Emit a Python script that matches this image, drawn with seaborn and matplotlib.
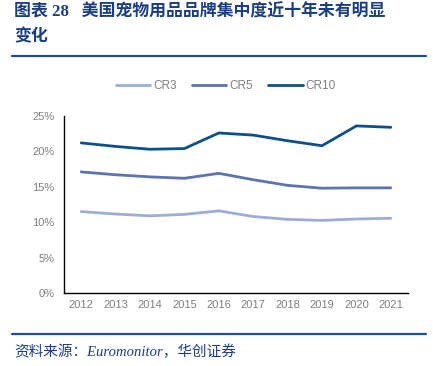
import pandas as pd
import matplotlib
matplotlib.use("Agg")
import matplotlib.pyplot as plt
import seaborn as sns
from matplotlib.lines import Line2D

# data (%)
years = [2012, 2013, 2014, 2015, 2016, 2017, 2018, 2019, 2020, 2021]
cr3 = [11.5, 11.15, 10.9, 11.1, 11.6, 10.8, 10.4, 10.25, 10.45, 10.55]
cr5 = [17.1, 16.7, 16.4, 16.2, 16.9, 16.0, 15.2, 14.8, 14.85, 14.85]
cr10 = [21.2, 20.7, 20.3, 20.4, 22.6, 22.3, 21.5, 20.8, 23.6, 23.4]
series_names = ["CR3", "CR5", "CR10"]
y_ticks = [0, 5, 10, 15, 20, 25]

title_1 = "图表 28   美国宠物用品品牌集中度近十年未有明显"
title_2 = "变化"
source = "资料来源：Euromonitor，华创证券"

# long table for seaborn
df = pd.DataFrame({"year": [str(y) for y in years], "CR3": cr3, "CR5": cr5, "CR10": cr10})
df_long = df.melt(id_vars="year", var_name="series", value_name="value")

sns.set_style("white")
plt.rcParams["font.family"] = ["Liberation Sans", "Noto Sans CJK SC", "DejaVu Sans"]

palette = {"CR3": "#9dadd6", "CR5": "#5c74b0", "CR10": "#0d4f8d"}
gray = "#7f7f7f"
navy = "#1c3f7f"

fig = plt.figure(figsize=(4.33, 3.66), dpi=100)
ax = fig.add_axes([0.1478, 0.1995, 0.7945, 0.4836])

sns.lineplot(data=df_long, x="year", y="value", hue="series", hue_order=series_names,
             palette=palette, linewidth=2, sort=False, legend=False, ax=ax)

ax.set_xlim(-0.5, len(years) - 0.5)
ax.set_ylim(0, 25)
ax.set_yticks(y_ticks)
ax.set_yticklabels([f"{v}%" for v in y_ticks])
ax.set_xticks(range(len(years)))
ax.set_xticklabels([str(y) for y in years])
ax.set_xticks([i - 0.5 for i in range(len(years) + 1)], minor=True)
ax.tick_params(axis="x", which="major", length=0, pad=5, labelsize=8, labelcolor=gray)
ax.tick_params(axis="x", which="minor", direction="in", length=3, width=1, color="black")
ax.tick_params(axis="y", direction="in", length=3, width=1, color="black",
               pad=7, labelsize=8, labelcolor=gray)
ax.set_xlabel("")
ax.set_ylabel("")
for side in ["top", "right"]:
    ax.spines[side].set_visible(False)
for side in ["left", "bottom"]:
    ax.spines[side].set_color("black")
    ax.spines[side].set_linewidth(1)

handles = [Line2D([0], [0], color=palette[s], lw=2) for s in series_names]
fig.legend(handles, series_names, loc="center", bbox_to_anchor=(0.522, 0.765),
           ncol=3, frameon=False, fontsize=8.5, labelcolor=gray,
           handlelength=2.9, handletextpad=0.25, columnspacing=1.3)

# title and source
fig.text(0.032, 1 - 12 / 366, title_1, fontsize=12.2, fontweight="bold", color=navy,
         va="center", ha="left", family=["Liberation Serif", "Noto Sans CJK SC"])
fig.text(0.032, 1 - 37 / 366, title_2, fontsize=12.2, fontweight="bold", color=navy,
         va="center", ha="left", family=["Liberation Serif", "Noto Sans CJK SC"])
fig.add_artist(Line2D([12 / 433, 426 / 433], [1 - 55.5 / 366, 1 - 55.5 / 366],
                      color="#1f4f96", lw=1.6, transform=fig.transFigure))
fig.add_artist(Line2D([12 / 433, 426 / 433], [1 - 334 / 366, 1 - 334 / 366],
                      color="#1f4f96", lw=1.6, transform=fig.transFigure))
fig.text(0.032, 1 - 352 / 366, source, fontsize=10.5, style="italic", color=navy,
         va="center", ha="left", family=["Liberation Serif", "Noto Sans CJK SC"])

fig.savefig("out.png", dpi=100)
